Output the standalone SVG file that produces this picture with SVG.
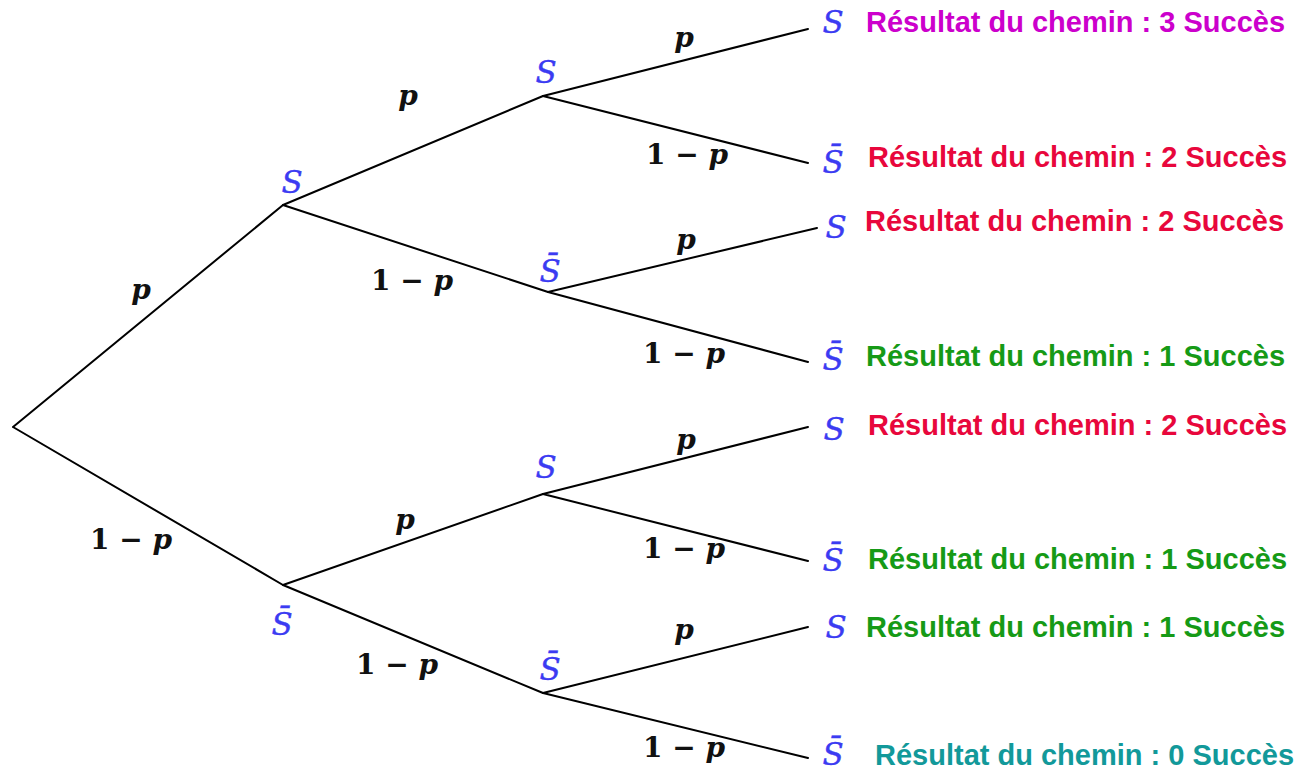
<svg xmlns="http://www.w3.org/2000/svg" width="1310" height="771" viewBox="0 0 1310 771">
<style>
.e{stroke:#000;stroke-width:2;fill:none;stroke-linecap:round}
.n{font-family:"DejaVu Serif",serif;font-style:italic;font-size:31px;fill:#3b3bf2;stroke:#3b3bf2;stroke-width:0.4;text-anchor:middle}
.l{font-family:"DejaVu Serif",serif;font-weight:bold;font-size:28px;fill:#111;text-anchor:middle}
.l .v{font-style:italic}
.r{font-family:"Liberation Sans",Arial,sans-serif;font-weight:bold;font-size:29px}
.mag{fill:#cc00cc}.red{fill:#e8073c}.grn{fill:#169a16}.teal{fill:#12999a}
</style>
<rect width="1310" height="771" fill="#fff"/>
<g id="connectors">
<path class="e" d="M13 427L283 205M13 427L283 585"/>
<path class="e" d="M283 205L543 96M283 205L548 292M283 585L543 494M283 585L543 693"/>
<path class="e" d="M543 96L808 29M543 96L808 163M548 292L817 228M548 292L808 362M543 494L808 427M543 494L808 561M543 693L808 627M543 693L808 758"/>
</g>
<g id="edge-labels">
<text class="l" x="141" y="299"><tspan class="v">p</tspan></text>
<text class="l" x="131" y="549">1 − <tspan class="v">p</tspan></text>
<text class="l" x="408" y="105"><tspan class="v">p</tspan></text>
<text class="l" x="412" y="290">1 − <tspan class="v">p</tspan></text>
<text class="l" x="405" y="529"><tspan class="v">p</tspan></text>
<text class="l" x="397" y="674">1 − <tspan class="v">p</tspan></text>
<text class="l" x="684" y="47"><tspan class="v">p</tspan></text>
<text class="l" x="687" y="164">1 − <tspan class="v">p</tspan></text>
<text class="l" x="686" y="249"><tspan class="v">p</tspan></text>
<text class="l" x="684" y="363">1 − <tspan class="v">p</tspan></text>
<text class="l" x="686" y="449"><tspan class="v">p</tspan></text>
<text class="l" x="684" y="558">1 − <tspan class="v">p</tspan></text>
<text class="l" x="684" y="639"><tspan class="v">p</tspan></text>
<text class="l" x="684" y="757">1 − <tspan class="v">p</tspan></text>
</g>
<g id="root"></g>
<g id="n1"><text class="n" x="292" y="193">S</text></g>
<g id="n2"><text class="n" x="282" y="635">S̄</text></g>
<g id="n11"><text class="n" x="546" y="83">S</text></g>
<g id="n12"><text class="n" x="550" y="282">S̄</text></g>
<g id="n21"><text class="n" x="546" y="478">S</text></g>
<g id="n22"><text class="n" x="550" y="680">S̄</text></g>
<g id="leaf1"><text class="n" x="833" y="33">S</text><text class="r mag" x="866" y="32">Résultat du chemin : 3 Succès</text></g>
<g id="leaf2"><text class="n" x="833" y="173">S̄</text><text class="r red" x="868" y="167">Résultat du chemin : 2 Succès</text></g>
<g id="leaf3"><text class="n" x="836" y="238">S</text><text class="r red" x="865" y="231">Résultat du chemin : 2 Succès</text></g>
<g id="leaf4"><text class="n" x="833" y="370">S̄</text><text class="r grn" x="866" y="366">Résultat du chemin : 1 Succès</text></g>
<g id="leaf5"><text class="n" x="834" y="440">S</text><text class="r red" x="868" y="435">Résultat du chemin : 2 Succès</text></g>
<g id="leaf6"><text class="n" x="833" y="571">S̄</text><text class="r grn" x="868" y="569">Résultat du chemin : 1 Succès</text></g>
<g id="leaf7"><text class="n" x="836" y="638">S</text><text class="r grn" x="866" y="637">Résultat du chemin : 1 Succès</text></g>
<g id="leaf8"><text class="n" x="833" y="765">S̄</text><text class="r teal" x="875" y="765">Résultat du chemin : 0 Succès</text></g>
</svg>
